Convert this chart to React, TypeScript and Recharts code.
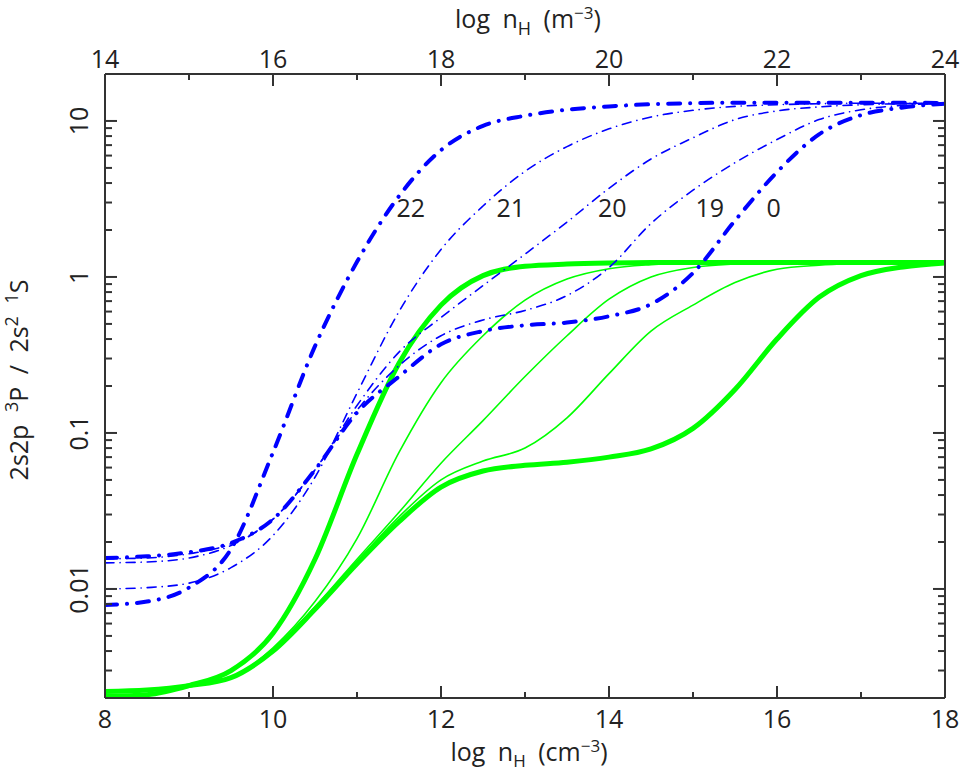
import React from 'react';
import { LineChart, Line, XAxis, YAxis, ReferenceDot } from 'recharts';

// log n_H (cm^-3)
const logN = [8, 8.5, 9, 9.5, 10, 10.5, 11, 11.5, 12, 12.5, 13, 13.5, 14, 14.5, 15, 15.5, 16, 16.5, 17, 17.5, 18];

// 2s2p 3P / 2s2 1S, blue (dash-dot) curves
const blue22 = [0.0079, 0.0083, 0.0102, 0.018, 0.075, 0.36, 1.25, 3.3, 6.5, 9.3, 10.8, 11.8, 12.4, 12.8, 13.0, 13.1, 13.1, 13.1, 13.1, 13.1, 13.0];
const blue21 = [0.0100, 0.0102, 0.0109, 0.0137, 0.022, 0.052, 0.18, 0.6, 1.5, 2.85, 4.75, 6.85, 8.9, 10.6, 11.7, 12.4, 12.7, 12.9, 13.0, 13.0, 13.0];
const blue20 = [0.0147, 0.0149, 0.0158, 0.019, 0.028, 0.058, 0.15, 0.33, 0.55, 0.88, 1.4, 2.25, 3.7, 5.7, 7.8, 10.2, 11.6, 12.3, 12.7, 12.9, 13.0];
const blue19 = [0.0156, 0.0158, 0.0168, 0.0195, 0.028, 0.058, 0.14, 0.27, 0.42, 0.53, 0.61, 0.76, 1.15, 2.2, 3.6, 5.4, 7.6, 10.2, 11.8, 12.6, 13.0];
const blue0 = [0.0158, 0.0162, 0.0172, 0.0197, 0.028, 0.058, 0.135, 0.23, 0.37, 0.45, 0.49, 0.51, 0.56, 0.67, 1.06, 2.3, 4.7, 8.2, 10.9, 12.2, 12.9];

// green (solid) curves
const green22 = [0.00205, 0.0021, 0.0024, 0.003, 0.0052, 0.0155, 0.073, 0.28, 0.66, 1.02, 1.17, 1.21, 1.23, 1.24, 1.24, 1.24, 1.24, 1.24, 1.24, 1.24, 1.24];
const green21 = [0.0022, 0.00225, 0.0024, 0.0027, 0.0042, 0.0083, 0.021, 0.075, 0.21, 0.42, 0.71, 0.97, 1.13, 1.2, 1.23, 1.24, 1.24, 1.24, 1.24, 1.24, 1.24];
const green20 = [0.0022, 0.00225, 0.0024, 0.0027, 0.0041, 0.0077, 0.0155, 0.031, 0.064, 0.12, 0.23, 0.42, 0.72, 1.0, 1.15, 1.21, 1.23, 1.24, 1.24, 1.24, 1.24];
const green19 = [0.0022, 0.00225, 0.0024, 0.0027, 0.0041, 0.0076, 0.015, 0.029, 0.05, 0.066, 0.08, 0.125, 0.24, 0.45, 0.66, 0.92, 1.12, 1.19, 1.22, 1.24, 1.24];
const green0 = [0.0022, 0.00225, 0.0024, 0.0027, 0.004, 0.0074, 0.0145, 0.027, 0.045, 0.057, 0.062, 0.065, 0.07, 0.079, 0.107, 0.19, 0.4, 0.74, 1.02, 1.16, 1.23];

const xTicks = [8, 9, 10, 11, 12, 13, 14, 15, 16, 17, 18];
const xMajor = [8, 10, 12, 14, 16, 18];
const topOffset = 6; // m^-3 = cm^-3 + 6

const yTicks = [
  0.003, 0.004, 0.005, 0.006, 0.007, 0.008, 0.009,
  0.01, 0.02, 0.03, 0.04, 0.05, 0.06, 0.07, 0.08, 0.09,
  0.1, 0.2, 0.3, 0.4, 0.5, 0.6, 0.7, 0.8, 0.9,
  1, 2, 3, 4, 5, 6, 7, 8, 9, 10,
];
const yMajor = [0.01, 0.1, 1, 10];

const curveLabels = ['22', '21', '20', '19', '0'];
const curveLabelX = [11.64, 12.83, 14.04, 15.2, 15.96];
const curveLabelY = 2.75;

const data = logN.map((x, i) => ({
  x,
  b22: blue22[i],
  b21: blue21[i],
  b20: blue20[i],
  b19: blue19[i],
  b0: blue0[i],
  g22: green22[i],
  g21: green21[i],
  g20: green20[i],
  g19: green19[i],
  g0: green0[i],
}));

// full-window figure: no body margin, no scrollbars
if (typeof document !== 'undefined') {
  document.documentElement.style.overflow = 'hidden';
  document.body.style.margin = '0';
}

const AXIS = '#333';
const TEXT = '#222';
const FONT = '"Open Sans", "DejaVu Sans", sans-serif';
const BLUE = '#0000ff';
const GREEN = '#00ff00';

const LeftTick = ({ x, y, payload }: any) => {
  const major = yMajor.includes(payload.value);
  return (
    <g>
      <line x1={x} y1={y} x2={x + (major ? 12 : 7)} y2={y} stroke={AXIS} strokeWidth={2} />
      {major && (
        <text
          transform={`translate(${x - 17},${y}) rotate(-90)`}
          textAnchor="middle"
          fontSize={25}
          fontFamily={FONT}
          fill={TEXT}
        >
          {String(payload.value)}
        </text>
      )}
    </g>
  );
};

const RightTick = ({ x, y, payload }: any) => {
  const major = yMajor.includes(payload.value);
  return <line x1={x} y1={y} x2={x - (major ? 12 : 7)} y2={y} stroke={AXIS} strokeWidth={2} />;
};

const BottomTick = ({ x, y, payload }: any) => {
  const major = xMajor.includes(payload.value);
  return (
    <g>
      <line x1={x} y1={y} x2={x} y2={y - (major ? 12 : 6)} stroke={AXIS} strokeWidth={2} />
      {major && (
        <text x={x} y={y + 30} textAnchor="middle" fontSize={25} fontFamily={FONT} fill={TEXT}>
          {payload.value}
        </text>
      )}
    </g>
  );
};

const TopTick = ({ x, y, payload }: any) => {
  const major = xMajor.includes(payload.value);
  return (
    <g>
      <line x1={x} y1={y} x2={x} y2={y + (major ? 12 : 6)} stroke={AXIS} strokeWidth={2} />
      {major && (
        <text x={x} y={y - 6} textAnchor="middle" fontSize={25} fontFamily={FONT} fill={TEXT}>
          {payload.value + topOffset}
        </text>
      )}
    </g>
  );
};

const thickDash = '12 10 0.1 10';
const thinDash = '9 6 0.1 6';

export default function App() {
  const W = 961;
  const H = 772;
  return (
    <div style={{ position: 'relative', width: W, height: H, fontFamily: FONT }}>
      <LineChart width={W} height={H} data={data} margin={{ top: 44, right: 8, bottom: 44, left: 45 }}>
        <XAxis
          xAxisId="b"
          dataKey="x"
          type="number"
          domain={[8, 18]}
          ticks={xTicks}
          interval={0}
          allowDataOverflow
          height={30}
          tickSize={0}
          tickMargin={0}
          tickLine={false}
          axisLine={{ stroke: AXIS, strokeWidth: 2 }}
          tick={<BottomTick />}
        />
        <XAxis
          xAxisId="t"
          orientation="top"
          dataKey="x"
          type="number"
          domain={[8, 18]}
          ticks={xTicks}
          interval={0}
          allowDataOverflow
          height={30}
          tickSize={0}
          tickMargin={0}
          tickLine={false}
          axisLine={{ stroke: AXIS, strokeWidth: 2 }}
          tick={<TopTick />}
        />
        <YAxis
          yAxisId="l"
          type="number"
          scale="log"
          domain={[0.002, 20]}
          ticks={yTicks}
          interval={0}
          allowDataOverflow
          width={60}
          tickSize={0}
          tickMargin={0}
          tickLine={false}
          axisLine={{ stroke: AXIS, strokeWidth: 2 }}
          tick={<LeftTick />}
        />
        <YAxis
          yAxisId="r"
          orientation="right"
          type="number"
          scale="log"
          domain={[0.002, 20]}
          ticks={yTicks}
          interval={0}
          allowDataOverflow
          width={8}
          tickSize={0}
          tickMargin={0}
          tickLine={false}
          axisLine={{ stroke: AXIS, strokeWidth: 2 }}
          tick={<RightTick />}
        />

        {(['g22', 'g0'] as const).map((k) => (
          <Line key={k} xAxisId="b" yAxisId="l" dataKey={k} type="monotone" dot={false}
            stroke={GREEN} strokeWidth={5} isAnimationActive={false} />
        ))}
        {(['g21', 'g20', 'g19'] as const).map((k) => (
          <Line key={k} xAxisId="b" yAxisId="l" dataKey={k} type="monotone" dot={false}
            stroke={GREEN} strokeWidth={1.6} isAnimationActive={false} />
        ))}
        {(['b21', 'b20', 'b19'] as const).map((k) => (
          <Line key={k} xAxisId="b" yAxisId="l" dataKey={k} type="monotone" dot={false}
            stroke={BLUE} strokeWidth={1.6} strokeDasharray={thinDash} strokeLinecap="round"
            isAnimationActive={false} />
        ))}
        {(['b22', 'b0'] as const).map((k) => (
          <Line key={k} xAxisId="b" yAxisId="l" dataKey={k} type="monotone" dot={false}
            stroke={BLUE} strokeWidth={4} strokeDasharray={thickDash} strokeLinecap="round"
            isAnimationActive={false} />
        ))}

        {curveLabels.map((t, i) => (
          <ReferenceDot
            key={t}
            xAxisId="b"
            yAxisId="l"
            x={curveLabelX[i]}
            y={curveLabelY}
            r={0}
            fill="none"
            stroke="none"
            label={{ value: t, position: 'center', fontSize: 25, fill: TEXT, fontFamily: FONT }}
          />
        ))}
      </LineChart>

      <svg
        width={W}
        height={H}
        style={{ position: 'absolute', left: 0, top: 0, pointerEvents: 'none' }}
      >
        <text x={528} y={28} textAnchor="middle" fontSize={25} fontFamily={FONT} fill={TEXT} style={{ wordSpacing: 6 }}>
          log n<tspan fontSize={18} dy={7}>H</tspan>
          <tspan dy={-7}> (m</tspan>
          <tspan fontSize={17} dy={-9}>−3</tspan>
          <tspan dy={9}>)</tspan>
        </text>
        <text x={529} y={761} textAnchor="middle" fontSize={25} fontFamily={FONT} fill={TEXT} style={{ wordSpacing: 6 }}>
          log n<tspan fontSize={17} dy={6}>H</tspan>
          <tspan dy={-6}> (cm</tspan>
          <tspan fontSize={17} dy={-9}>−3</tspan>
          <tspan dy={9}>)</tspan>
        </text>
        <text
          transform="translate(28,380) rotate(-90)"
          textAnchor="middle"
          fontSize={25}
          fontFamily={FONT}
          fill={TEXT}
          style={{ wordSpacing: 6 }}
        >
          2s2p <tspan fontSize={18} dy={-10}>3</tspan>
          <tspan dy={10}>P / 2s</tspan>
          <tspan fontSize={18} dy={-10}>2</tspan>
          <tspan dy={10}> </tspan>
          <tspan fontSize={18} dy={-10}>1</tspan>
          <tspan dy={10}>S</tspan>
        </text>
      </svg>
    </div>
  );
}
